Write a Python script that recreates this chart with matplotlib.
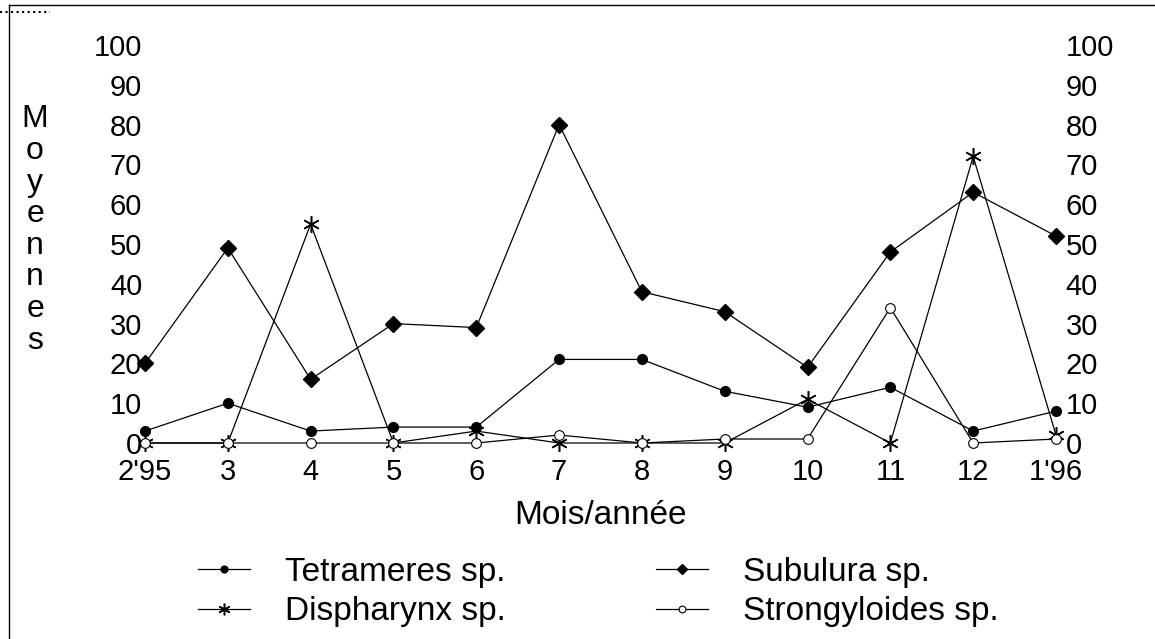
import numpy as np
import matplotlib.pyplot as plt
from matplotlib.lines import Line2D

plt.rcParams["font.family"] = ["Liberation Sans", "DejaVu Sans"]

# monthly means per parasite
months = ["2'95", "3", "4", "5", "6", "7", "8", "9", "10", "11", "12", "1'96"]
tetrameres = [3, 10, 3, 4, 4, 21, 21, 13, 9, 14, 3, 8]
subulura = [20, 49, 16, 30, 29, 80, 38, 33, 19, 48, 63, 52]
dispharynx = [0, 0, 55, 0, 3, 0, 0, 0, 11, 0, 72, 2]
strongyloides = [0, 0, 0, 0, 0, 2, 0, 1, 1, 34, 0, 1]
y_ticks = list(range(0, 101, 10))

x = np.arange(len(months))
W, H = 1155, 639

fig = plt.figure(figsize=(W / 100, H / 100), dpi=100)
ax = fig.add_axes([145 / W, 1 - 443 / H, (1056 - 145) / W, (443 - 45) / H])

star = (6, 2, 0)
kw = dict(color="black", lw=0.9, clip_on=False, zorder=3)
l1, = ax.plot(x, tetrameres, marker="o", ms=7, mfc="black", mec="black", **kw)
l2, = ax.plot(x, dispharynx, marker=star, ms=12, mew=1.1, mec="black", **kw)
l3, = ax.plot(x, subulura, marker="D", ms=8, mfc="black", mec="black", **kw)
l4, = ax.plot(x, strongyloides, marker="o", ms=7, mfc="white", mec="black", mew=0.8, **kw)

ax.set_xlim(0, len(months) - 1)
ax.set_ylim(0, 100)
ax.set_xticks(x)
ax.set_xticklabels(months, fontsize=21)
ax.set_yticks(y_ticks)
ax.tick_params(axis="both", length=0)
ax.tick_params(axis="y", labelsize=21, pad=2)
ax.tick_params(axis="x", pad=11)
for s in ax.spines.values():
    s.set_visible(False)

ax2 = ax.twinx()
ax2.set_ylim(0, 100)
ax2.set_yticks(y_ticks)
ax2.tick_params(axis="y", length=0, labelsize=21, pad=7)
for s in ax2.spines.values():
    s.set_visible(False)

ax.set_xlabel("Mois/année", fontsize=24, labelpad=10)
fig.text(35 / W, 1 - 230 / H, "M\no\ny\ne\nn\nn\ne\ns", ha="center", va="center",
         fontsize=23, linespacing=1.07)

fig.legend([l1, l2, l3, l4],
           ["Tetrameres sp.", "Dispharynx sp.", "Subulura sp.", "Strongyloides sp."],
           ncol=2, loc="center", bbox_to_anchor=(598 / W, 1 - 592 / H), frameon=False,
           fontsize=24, handlelength=1.56, handletextpad=1.05, columnspacing=4.5,
           labelspacing=0.25, markerscale=0.7)

# page frame
fig.add_artist(Line2D([9 / W, 1], [1 - 5 / H] * 2, color="black", lw=1))
fig.add_artist(Line2D([9 / W] * 2, [0, 1 - 5 / H], color="black", lw=1))
fig.add_artist(Line2D([0, 50 / W], [1 - 12 / H] * 2, color="black", lw=1.5, ls=":"))

fig.savefig("out.png", dpi=100)
